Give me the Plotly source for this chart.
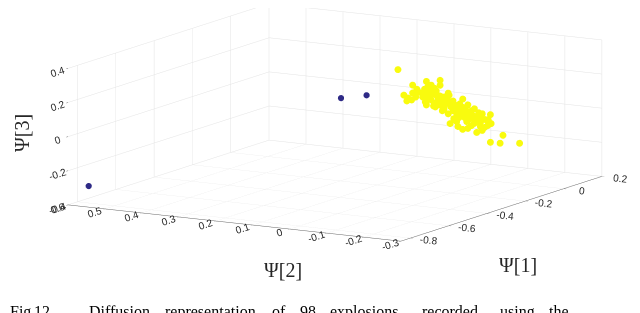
import plotly.graph_objects as go

# ---- data (Ψ[1], Ψ[2], Ψ[3]) ----
yellow_x = [0.05, 0.09, 0.05, 0.05, 0.01, 0.05, 0.05, 0.05, 0.09, 0.05,
            0.01, 0.05, 0.05, 0.09, 0.05, 0.05, 0.01, 0.05, 0.05, 0.05,
            0.09, 0.05, 0.05, 0.01, 0.05, 0.05, 0.09, 0.05, 0.05, 0.01,
            0.05, 0.05, 0.09, 0.05, 0.05, 0.01, 0.05, 0.09, 0.05, 0.05,
            0.05, 0.01, 0.05, 0.09, 0.05, 0.05, 0.01, 0.05, 0.09, 0.05,
            0.05, 0.01, 0.05, 0.05, 0.09, 0.05, 0.05, 0.01, 0.05, 0.05,
            0.05, 0.09, 0.05, 0.05, 0.01, 0.05, 0.05, 0.09, 0.05, 0.05,
            0.01, 0.05, 0.05, 0.09, 0.05, 0.05, 0.01, 0.05, 0.05, 0.09,
            0.05, 0.05, 0.01, 0.05, 0.05, 0.09, 0.05, 0.05, 0.01, 0.05,
            0.05, 0.09, 0.05, 0.05, 0.01]
yellow_y = [0.174, 0.155, 0.097, 0.060, 0.073, 0.084, 0.060, 0.158, 0.155, 0.118,
            0.086, 0.092, 0.078, 0.089, 0.060, 0.038, 0.015, 0.150, 0.137, 0.097,
            0.105, 0.073, 0.097, 0.057, 0.073, 0.046, 0.057, 0.031, 0.020, -0.022,
            0.007, -0.007, -0.012, 0.038, 0.025, -0.006, 0.004, 0.012, -0.020, -0.028,
            -0.041, -0.073, -0.076, 0.014, -0.020, 0.033, -0.009, -0.001, -0.012, -0.049,
            -0.060, -0.089, -0.078, -0.039, -0.033, -0.110, -0.076, -0.123, -0.155, 0.123,
            0.102, 0.110, 0.065, 0.054, 0.065, 0.107, 0.049, 0.091, 0.025, 0.017,
            -0.020, -0.015, -0.025, 0.030, -0.012, -0.025, -0.065, -0.062, 0.023, 0.070,
            0.062, 0.126, 0.126, 0.076, 0.007, -0.015, -0.015, -0.049, 0.020, 0.100,
            0.054, 0.036, -0.004, -0.054, -0.091]
yellow_z = [0.169, 0.068, 0.118, 0.133, 0.104, 0.099, 0.104, 0.023, 0.022, 0.050,
            0.066, 0.051, 0.048, 0.020, 0.041, 0.063, 0.071, -0.009, 0.000, 0.021,
            -0.007, -0.003, -0.020, -0.002, -0.026, -0.002, -0.018, -0.015, -0.002, 0.057,
            0.007, -0.013, -0.031, -0.058, -0.037, -0.033, -0.044, -0.042, -0.044, -0.053,
            -0.062, -0.040, -0.036, -0.089, -0.073, -0.114, -0.107, -0.140, -0.117, -0.089,
            -0.115, -0.083, -0.088, -0.149, -0.153, -0.149, -0.198, -0.178, -0.185, 0.066,
            0.071, 0.015, 0.017, 0.013, 0.088, 0.024, 0.038, 0.048, 0.020, -0.024,
            0.010, 0.007, -0.025, -0.093, -0.092, -0.112, -0.013, -0.068, -0.083, -0.050,
            -0.012, 0.019, 0.028, 0.083, -0.027, -0.094, -0.131, -0.112, 0.047, -0.003,
            -0.044, -0.117, -0.048, -0.036, -0.048]

blue_x = [-0.80, -0.197, -0.16]
blue_y = [0.57, 0.20, 0.15]
blue_z = [-0.30, 0.085, 0.10]

x_ticks = [-0.8, -0.6, -0.4, -0.2, 0, 0.2]
x_ticktext = ["-0.8", "-0.6", "-0.4", "-0.2", "0", "0.2"]
y_ticks = [-0.3, -0.2, -0.1, 0, 0.1, 0.2, 0.3, 0.4, 0.5, 0.6]
y_ticktext = ["-0.3", "-0.2", "-0.1", "0", "0.1", "0.2", "0.3", "0.4", "0.5", "0.6"]
z_ticks = [-0.4, -0.2, 0, 0.2, 0.4]
z_ticktext = ["-0.4", "-0.2", "0", "0.2", "0.4"]

axis_titles = ["Ψ[1]", "Ψ[2]", "Ψ[3]"]

caption_words = ["Fig.", "12.", "Diffusion", "representation", "of", "98",
                 "explosions", "recorded", "using", "the"]
caption_px = [0, 24, 79, 155, 262, 290, 320, 412, 490, 539]

YELLOW = "#f9fb0e"
BLUE = "#2e2a86"
GRID = "#e3e3e3"
TXT = "#262626"

fig = go.Figure()
fig.add_trace(go.Scatter3d(x=yellow_x, y=yellow_y, z=yellow_z, mode="markers",
                           marker=dict(size=4, color=YELLOW, line=dict(width=0)),
                           showlegend=False, hoverinfo="skip"))
fig.add_trace(go.Scatter3d(x=blue_x, y=blue_y, z=blue_z, mode="markers",
                           marker=dict(size=3.6, color=BLUE, line=dict(width=0)),
                           showlegend=False, hoverinfo="skip"))

def ax(rng, tv, tt, line=True):
    return dict(title=dict(text=""),
                range=rng, tickvals=tv, ticktext=tt, autorange=False,
                tickfont=dict(family="Liberation Sans", size=11, color=TXT),
                showgrid=True, gridcolor=GRID, gridwidth=1,
                showline=line, linecolor="#666666", linewidth=1,
                zeroline=False, showbackground=False, showspikes=False,
                ticks="outside", ticklen=3, tickcolor="#666666")

d = 2.0
ex, ey, ez = -0.849, -0.494, 0.1874
cx, cy, cz = -0.0659, 0.0128, -0.2642
k = 2.555
fig.update_layout(
    width=640, height=313,
    margin=dict(l=0, r=0, t=0, b=0),
    paper_bgcolor="white",
    scene=dict(
        domain=dict(x=[0, 1], y=[0, 1]),
        xaxis=ax([-0.85, 0.2], x_ticks, x_ticktext),
        yaxis=ax([-0.3, 0.6], y_ticks, y_ticktext),
        zaxis=ax([-0.4, 0.4], z_ticks, z_ticktext, line=False),
        aspectmode="manual",
        aspectratio=dict(x=1.0 * k, y=0.963 * k, z=0.3475 * k),
        camera=dict(eye=dict(x=cx + ex * d, y=cy + ey * d, z=cz + ez * d),
                    center=dict(x=cx, y=cy, z=cz),
                    up=dict(x=0, y=0, z=1),
                    projection=dict(type="orthographic")),
    ),
)

title_font = dict(family="Liberation Serif", size=20, color=TXT)
fig.add_annotation(text=axis_titles[0], x=0.797, y=0.179, xref="paper", yref="paper",
                   xanchor="center", yanchor="middle", showarrow=False, font=title_font)
fig.add_annotation(text=axis_titles[1], x=0.4297, y=0.163, xref="paper", yref="paper",
                   xanchor="center", yanchor="middle", showarrow=False, font=title_font)
fig.add_annotation(text=axis_titles[2], x=0.0219, y=0.6006, xref="paper", yref="paper",
                   xanchor="center", yanchor="middle", showarrow=False, font=title_font,
                   textangle=-90)

for w, px in zip(caption_words, caption_px):
    fig.add_annotation(text=w, x=px / 640, y=0.064, xref="paper", yref="paper",
                       xanchor="left", yanchor="top", showarrow=False,
                       font=dict(family="Liberation Serif", size=16, color="#000000"))

fig.write_html("out.html")
